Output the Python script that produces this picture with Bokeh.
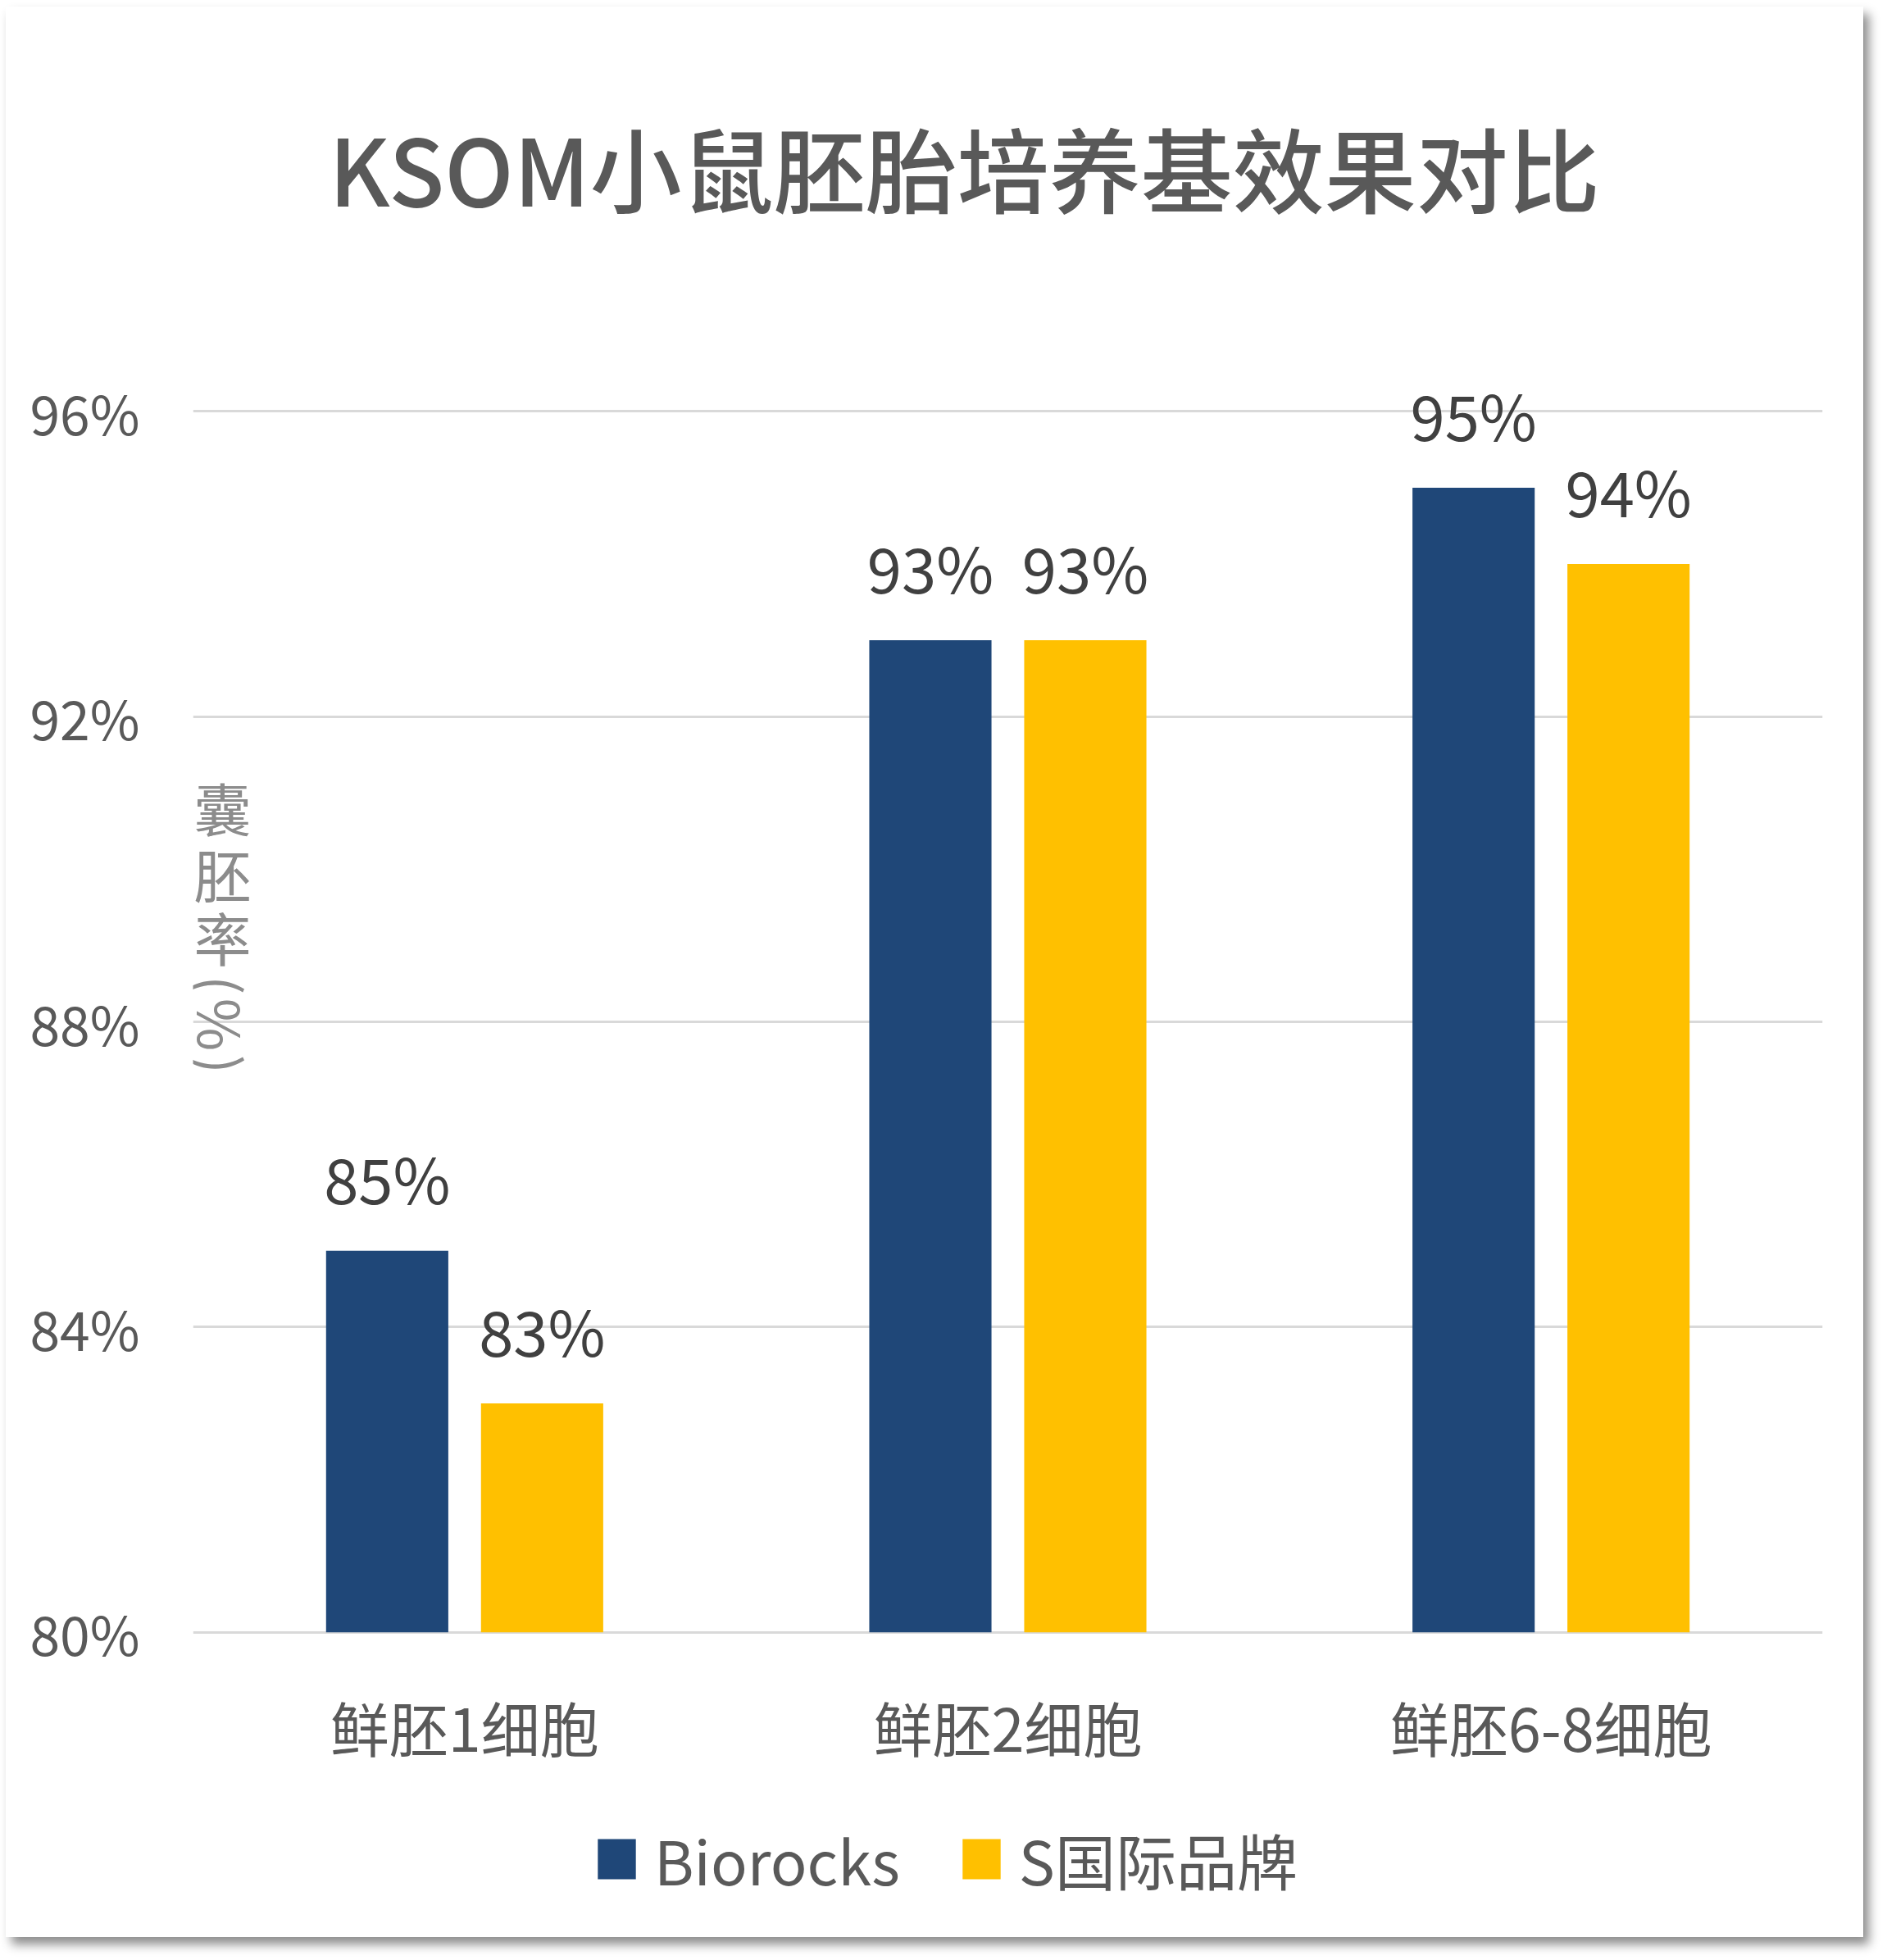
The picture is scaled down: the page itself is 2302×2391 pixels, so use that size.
from bokeh.plotting import figure
from bokeh.models import (ColumnDataSource, FixedTicker, PrintfTickFormatter, LabelSet,
                          Label, Legend, LegendItem, FactorRange)
from bokeh.core.properties import value
from bokeh.transform import dodge
from bokeh.embed import file_html
from bokeh.resources import INLINE
from math import pi

# ---- data ----
categories = ["鲜胚1细胞", "鲜胚2细胞", "鲜胚6-8细胞"]
series_names = ["Biorocks", "S国际品牌"]
biorocks = [85, 93, 95]
s_brand = [83, 93, 94]
y_ticks = [80, 84, 88, 92, 96]
title_text = "KSOM小鼠胚胎培养基效果对比"
y_title_chars = ["囊", "胚", "率"]
y_title_tail = "(\u200a%\u200a)"

FONT = "Noto Sans CJK SC"
TITLE_FONT = "Noto Sans CJK SC Medium"
BLUE = "#1F4778"
YELLOW = "#FFC000"
Y_MIN, Y_MAX = 80, 96

src = ColumnDataSource(dict(
    cat=categories,
    b=biorocks,
    s=s_brand,
    bl=[f"{v}%" for v in biorocks],
    sl=[f"{v}%" for v in s_brand],
    cy=[78.77] * len(categories),
))

W, H = 2266, 2355
p = figure(x_range=FactorRange(*categories), y_range=(76.0, 101.3),
           width=W, height=H, output_backend="svg", toolbar_location=None,
           min_border_left=228, min_border_right=50, min_border_top=0,
           min_border_bottom=0)
p.margin = (8, 0, 0, 7)
p.x_range.range_padding = 0
p.background_fill_color = "white"
p.border_fill_color = "white"
p.outline_line_color = None
p.styles = {"box-shadow": "7px 9px 12px rgba(0,0,0,0.45)"}

OFF = 0.1426
BW = 0.225
r1 = p.vbar(x=dodge("cat", -OFF, range=p.x_range), top="b", bottom=Y_MIN, width=BW,
            source=src, fill_color=BLUE, line_color=None)
r2 = p.vbar(x=dodge("cat", OFF, range=p.x_range), top="s", bottom=Y_MIN, width=BW,
            source=src, fill_color=YELLOW, line_color=None)

# data labels
for fld, top, off in (("bl", "b", -OFF), ("sl", "s", OFF)):
    p.add_layout(LabelSet(x=dodge("cat", off, range=p.x_range), y=top, text=fld, source=src,
                          y_offset=57, text_align="center", text_baseline="alphabetic",
                          text_font=value(FONT), text_font_size=value("76px"),
                          text_color=value("#404040")))

# category labels
p.add_layout(LabelSet(x="cat", y="cy", text="cat", source=src,
                      text_align="center", text_baseline="middle",
                      text_font=value(FONT), text_font_size=value("72px"),
                      text_color=value("#595959")))
p.xaxis.visible = False

# y axis
p.yaxis.ticker = FixedTicker(ticks=y_ticks)
p.yaxis.formatter = PrintfTickFormatter(format="%d%%")
p.yaxis.axis_line_color = None
p.yaxis.major_tick_line_color = None
p.yaxis.minor_tick_line_color = None
p.yaxis.major_tick_out = 0
p.yaxis.major_tick_in = 0
p.yaxis.major_label_standoff = 65
p.yaxis.major_label_text_font = FONT
p.yaxis.major_label_text_font_size = "66px"
p.yaxis.major_label_text_color = "#595959"

p.xgrid.grid_line_color = None
p.ygrid.ticker = FixedTicker(ticks=y_ticks)
p.ygrid.grid_line_color = "#D9D9D9"
p.ygrid.grid_line_width = 3

# y-axis title (vertical text inside the plot area)
YT_X = 0.0543
for ch, yy in zip(y_title_chars, [90.81, 89.94, 89.12]):
    p.add_layout(Label(x=YT_X, y=yy, text=ch, text_align="center", text_baseline="middle",
                       text_font=FONT, text_font_size="70px", text_color="#8C8C8C"))
p.add_layout(Label(x=YT_X, y=88.61, text=y_title_tail, angle=-pi / 2,
                   text_align="left", text_baseline="middle",
                   text_font=FONT, text_font_size="70px", text_color="#8C8C8C"))

# title
p.add_layout(Label(x=1.42, y=99.21, text=title_text, text_align="center",
                   text_baseline="alphabetic", text_font=TITLE_FONT, text_font_size="112px",
                   text_color="#595959"))

legend = Legend(items=[LegendItem(label=series_names[0], renderers=[r1]),
                       LegendItem(label=series_names[1], renderers=[r2])],
                orientation="horizontal", location=(488, 42),
                glyph_width=58, glyph_height=61, label_standoff=17, spacing=70,
                padding=0, margin=0, border_line_color=None, background_fill_alpha=0,
                label_text_font=FONT, label_text_font_size="74px",
                label_text_color="#595959")
p.add_layout(legend, "center")

open("out.html", "w").write(file_html(p, INLINE))
